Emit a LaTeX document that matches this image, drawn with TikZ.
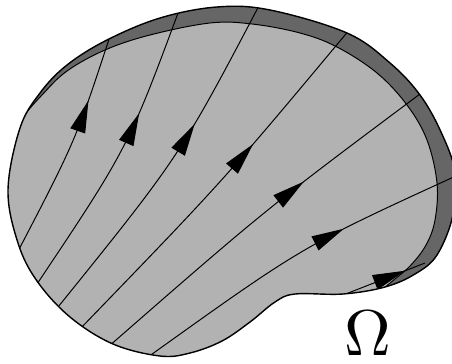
\documentclass[tikz,border=0pt]{standalone}
\usetikzlibrary{arrows.meta,decorations.markings}

\tikzset{
	flowline/.style={line width=0.7pt,
		decoration={markings, mark=at position #1 with {\arrow{Triangle[length=23pt,width=11pt]}}},
		postaction={decorate}},
}

\newcommand{\outerpath}{plot[smooth cycle, tension=0.6] coordinates {(8,190) (20,128) (40,93) (67,65) (107,40) (160,18) (217,7) (270,10) (347,33) (390,63) (420,95) (441,132) (455,172) (453,215) (437,255) (415,274) (385,287) (343,294) (295,294) (275,302) (250,322) (222,341) (190,353) (160,356) (113,344) (70,317) (37,281) (18,243)}}
\newcommand{\innerpath}{plot[smooth, tension=0.6] coordinates {(0,148) (22,118) (42,95) (67,71) (105,50) (150,35) (210,23) (252,24) (300,33) (337,47) (377,73) (407,105) (427,140) (437,183) (435,220) (426,245) (410,266) (390,283) (370,300)}}

\begin{document}
\begin{tikzpicture}[x=0.025cm, y=-0.025cm]
	\useasboundingbox (0,0) rectangle (452,363);
	
	\fill[black!60] \outerpath;
	
	\begin{scope}
	\clip \outerpath;
	\fill[black!30] \innerpath -- (370,400) -- (-20,400) -- (-20,148) -- cycle;
	\draw[line width=0.7pt] \innerpath;
	
	\foreach \s/\c/\e/\p in {{15,257}/{76,140}/{112,30}/0.70, {33,290}/{128,148}/{181,5}/0.64,
		{54,312}/{180,156}/{262,0}/0.625, {78,331}/{224,180}/{350,29}/0.63,
		{108,347}/{266,209}/{424,91}/0.63, {148,357}/{303,246}/{458,175}/0.65,
		{338,297}/{381,280}/{425,263}/0.77}
	\draw[flowline=\p] (\s) .. controls (\c) .. (\e);
	\end{scope}
	
	\draw[line width=1pt] \outerpath;
	
	\node[scale=4.6, inner sep=0pt] (omega) at (368,333) {$\Omega$};
\end{tikzpicture}
\end{document}
